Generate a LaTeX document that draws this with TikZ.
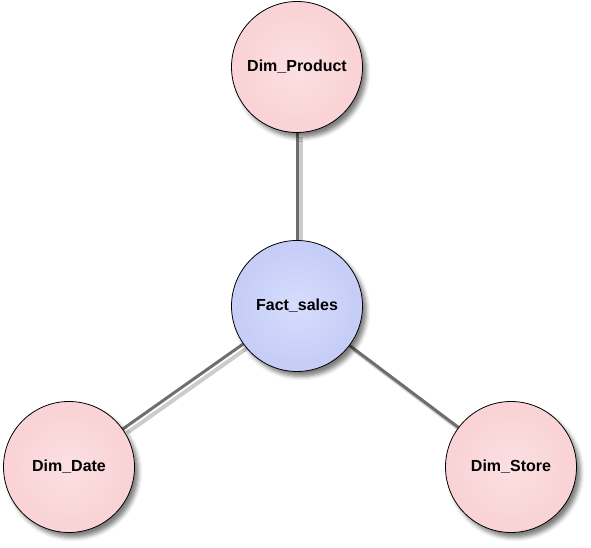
\documentclass[tikz,border=0pt]{standalone}
\usepackage{fontspec}
\setmainfont{Liberation Sans}
\usetikzlibrary{shadows.blur,backgrounds}
\definecolor{linkgray}{HTML}{6E6E6E}
\definecolor{pinkcA}{HTML}{FCE0E2}
\definecolor{pinkcB}{HTML}{F9D3D6}
\definecolor{pinkcC}{HTML}{E6BEC2}
\definecolor{bluecA}{HTML}{D6DDFC}
\definecolor{bluecB}{HTML}{C6CEF8}
\definecolor{bluecC}{HTML}{AAB4E6}
\pgfdeclareradialshading{pinkball}{\pgfpoint{0bp}{0bp}}{%
  color(0bp)=(pinkcA); color(22bp)=(pinkcB); color(45bp)=(pinkcB); color(50bp)=(pinkcC)}
\pgfdeclareradialshading{blueball}{\pgfpoint{0bp}{0bp}}{%
  color(0bp)=(bluecA); color(22bp)=(bluecB); color(45bp)=(bluecB); color(50bp)=(bluecC)}
\begin{document}
\begin{tikzpicture}[x=1pt,y=1pt,
  basenode/.style={circle, draw=black, line width=0.8pt, minimum size=131pt, inner sep=0pt,
    blur shadow={shadow xshift=4pt, shadow yshift=-5pt, shadow blur radius=4pt, shadow opacity=50},
    font=\bfseries\fontsize{16}{18}\selectfont},
  dimnode/.style={basenode, shading=pinkball},
  factnode/.style={basenode, shading=blueball},
  link/.style={draw=linkgray, line width=3pt},
  linkshadow/.style={draw=black!20, line width=4pt}]
\useasboundingbox (0,0) rectangle (591,548);
\node[dimnode] (prod) at (297,481) {Dim\_Product};
\node[factnode] (fact) at (297,242) {Fact\_sales};
\node[dimnode] (date) at (69,81) {Dim\_Date};
\node[dimnode] (store) at (511,81) {Dim\_Store};
\begin{pgfonlayer}{background}
  \begin{scope}[transform canvas={shift={(4pt,-4pt)}}]
    \draw[linkshadow] (fact) -- (prod);
    \draw[linkshadow] (fact) -- (date);
    \draw[linkshadow] (fact) -- (store);
  \end{scope}
  \draw[link] (fact) -- (prod);
  \draw[link] (fact) -- (date);
  \draw[link] (fact) -- (store);
\end{pgfonlayer}
\end{tikzpicture}
\end{document}
